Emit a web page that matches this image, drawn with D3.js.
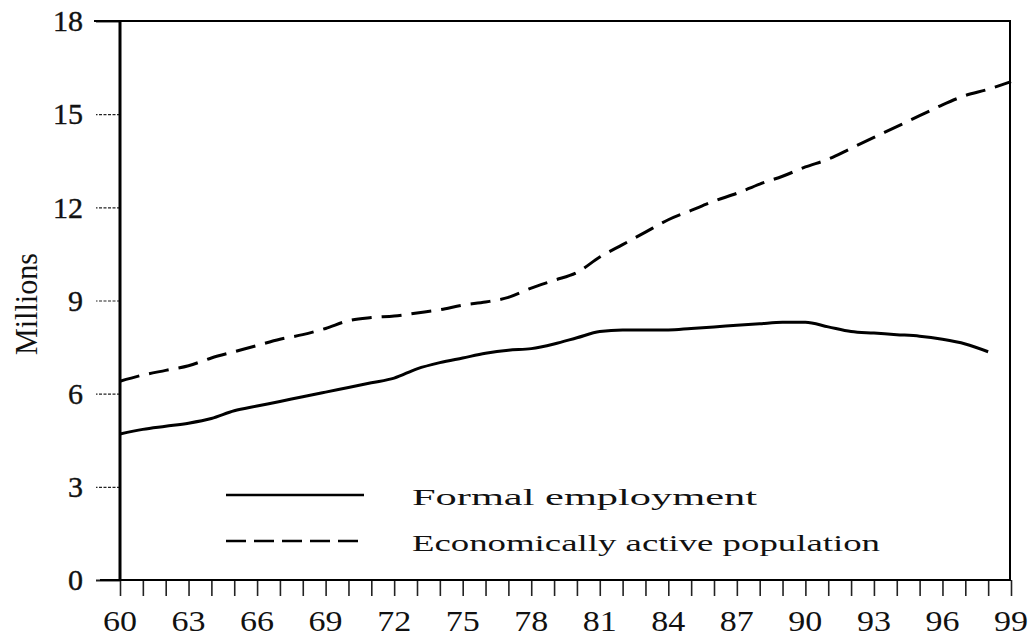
<!DOCTYPE html>
<html>
<head>
<meta charset="utf-8">
<script src="https://cdn.jsdelivr.net/npm/d3@7"></script>
<style>
  body { margin: 0; background: #fff; overflow: hidden; }
  svg { display: block; }
  .tickTxt { font-family: "Liberation Serif", "DejaVu Serif", serif; fill: #111; }
</style>
</head>
<body>
<div id="ChartWrap"></div>
<script>
var years = [60, 61, 62, 63, 64, 65, 66, 67, 68, 69, 70, 71, 72, 73, 74, 75, 76, 77, 78, 79,
    80, 81, 82, 83, 84, 85, 86, 87, 88, 89, 90, 91, 92, 93, 94, 95, 96, 97, 98, 99];
var formalEmployment = [4.7, 4.85, 4.95, 5.05, 5.2, 5.45, 5.6, 5.75, 5.9, 6.05,
    6.2, 6.35, 6.5, 6.8, 7.0, 7.15, 7.3, 7.4, 7.45, 7.6,
    7.8, 8.0, 8.05, 8.05, 8.05, 8.1, 8.15, 8.2, 8.25, 8.3,
    8.3, 8.15, 8.0, 7.95, 7.9, 7.85, 7.75, 7.6, 7.35];
var activePopulation = [6.4, 6.6, 6.75, 6.9, 7.15, 7.35, 7.55, 7.75, 7.9, 8.1,
    8.35, 8.45, 8.5, 8.6, 8.7, 8.85, 8.95, 9.1, 9.4, 9.65,
    9.9, 10.4, 10.8, 11.2, 11.6, 11.9, 12.2, 12.45, 12.75, 13.0,
    13.3, 13.55, 13.9, 14.25, 14.6, 14.95, 15.3, 15.6, 15.8, 16.05];
var yTicks = [0, 3, 6, 9, 12, 15, 18];
var xLabelYears = [60, 63, 66, 69, 72, 75, 78, 81, 84, 87, 90, 93, 96, 99];
var legendNames = ["Formal employment", "Economically active population"];

var WIDTH = 1034, HEIGHT = 643;
var LEFT = 120, RIGHT = 1011, TOP = 21, BOTTOM = 580;

var svg = d3.select("#ChartWrap")
    .append("svg")
    .attr("width", WIDTH)
    .attr("height", HEIGHT);

var x = d3.scaleLinear().domain([60, 99]).range([LEFT, RIGHT]);
var y = d3.scaleLinear().domain([0, 18]).range([BOTTOM, TOP]);

// y ticks + labels
var yAxis = svg.append("g")
    .attr("transform", "translate(" + LEFT + ",0)")
    .call(d3.axisLeft(y).tickValues(yTicks).tickSize(24).tickFormat(""));
yAxis.select(".domain").remove();
yAxis.selectAll(".tick line")
    .attr("stroke", "#222")
    .attr("stroke-width", function(d) { return (d == 0 || d == 18) ? 2 : 1.2; })
    .attr("stroke-dasharray", function(d) { return (d == 0 || d == 18) ? null : "3,1.5"; });

svg.append("g")
    .selectAll("text")
    .data(yTicks)
    .enter()
    .append("text")
    .attr("class", "tickTxt")
    .attr("x", 83)
    .attr("y", function(d) { return y(d); })
    .attr("dy", "0.34em")
    .attr("text-anchor", "end")
    .attr("font-size", "30px")
    .attr("stroke", "#111")
    .attr("stroke-width", 0.4)
    .text(function(d) { return d; });

// x ticks, one per year
var xAxis = svg.append("g")
    .attr("transform", "translate(0," + BOTTOM + ")")
    .call(d3.axisBottom(x).tickValues(years).tickSize(16).tickFormat(""));
xAxis.select(".domain").remove();
xAxis.selectAll(".tick line")
    .attr("stroke", "#222")
    .attr("stroke-width", 1.6);

svg.append("g")
    .selectAll("text")
    .data(xLabelYears)
    .enter()
    .append("text")
    .attr("class", "tickTxt")
    .attr("x", function(d) { return x(d); })
    .attr("y", 631)
    .attr("text-anchor", "middle")
    .attr("font-size", "29px")
    .attr("textLength", 34)
    .attr("lengthAdjust", "spacingAndGlyphs")
    .text(function(d) { return d; });

// frame
svg.append("line").attr("x1", LEFT).attr("x2", LEFT).attr("y1", TOP - 1).attr("y2", BOTTOM + 1)
    .attr("stroke", "#000").attr("stroke-width", 3);
svg.append("line").attr("x1", 94).attr("x2", RIGHT).attr("y1", TOP).attr("y2", TOP)
    .attr("stroke", "#000").attr("stroke-width", 2);
svg.append("line").attr("x1", RIGHT - 1).attr("x2", RIGHT - 1).attr("y1", TOP).attr("y2", BOTTOM)
    .attr("stroke", "#000").attr("stroke-width", 2);
svg.append("line").attr("x1", 100).attr("x2", RIGHT).attr("y1", BOTTOM).attr("y2", BOTTOM)
    .attr("stroke", "#000").attr("stroke-width", 2);

// y title
svg.append("text")
    .attr("class", "tickTxt")
    .attr("transform", "translate(37,304) rotate(-90)")
    .attr("text-anchor", "middle")
    .attr("font-size", "32px")
    .attr("textLength", 102)
    .attr("lengthAdjust", "spacingAndGlyphs")
    .text("Millions");

// lines
var line = d3.line()
    .x(function(d) { return x(d[0]); })
    .y(function(d) { return y(d[1]); })
    .curve(d3.curveMonotoneX);

var solidData = formalEmployment.map(function(v, i) { return [years[i], v]; });
var dashData = activePopulation.map(function(v, i) { return [years[i], v]; });

svg.append("path")
    .datum(solidData)
    .attr("d", line)
    .attr("fill", "none")
    .attr("stroke", "#000")
    .attr("stroke-width", 3);

svg.append("path")
    .datum(dashData)
    .attr("d", line)
    .attr("fill", "none")
    .attr("stroke", "#000")
    .attr("stroke-width", 3)
    .attr("stroke-dasharray", "20,10");

// legend
var legendY = [495, 541];
var legend = svg.append("g")
    .selectAll("g")
    .data(legendNames)
    .enter()
    .append("g");

legend.append("line")
    .attr("x1", 226)
    .attr("x2", 364)
    .attr("y1", function(d, i) { return legendY[i]; })
    .attr("y2", function(d, i) { return legendY[i]; })
    .attr("stroke", "#000")
    .attr("stroke-width", 2.5)
    .attr("stroke-dasharray", function(d, i) { return i == 0 ? null : "20,8"; });

legend.append("text")
    .attr("class", "tickTxt")
    .attr("x", 412)
    .attr("y", function(d, i) { return legendY[i] + 10; })
    .attr("font-size", "24px")
    .attr("textLength", function(d, i) { return i == 0 ? 345 : 468; })
    .attr("lengthAdjust", "spacingAndGlyphs")
    .text(function(d) { return d; });
</script>
</body>
</html>
